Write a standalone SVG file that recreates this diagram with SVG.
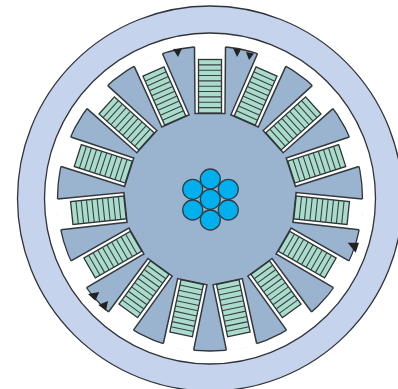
<svg xmlns="http://www.w3.org/2000/svg" width="398" height="389" viewBox="0 0 398 389">
<style>
.o{stroke:#2f3438;stroke-width:1.3}
.w{fill:#fff;stroke:none}
.e{fill:none;stroke:#33383c;stroke-width:1.5}
.g{fill:#a9dccb;stroke:#2f3438;stroke-width:1.3}
.b{stroke:#3a4044;stroke-width:1.1}
.c{fill:#00b0ee;stroke:#2f3e48;stroke-width:1.3}
.t{fill:#222}
</style>
<defs>
<g id="slot">
<rect class="w" x="-15.5" y="-153.6" width="31" height="68.6"/>
<path class="e" d="M-15.5,-151.5L-15,-85H15L15.5,-151.5"/>
<rect class="g" x="-11.5" y="-139" width="23" height="53.5"/>
<path class="b" d="M-11.5,-133.6H11.5M-11.5,-128.3H11.5M-11.5,-123H11.5M-11.5,-117.6H11.5M-11.5,-112.3H11.5M-11.5,-107H11.5M-11.5,-101.6H11.5M-11.5,-96.2H11.5M-11.5,-90.9H11.5"/>
</g>
</defs>
<circle class="o" cx="210" cy="198.5" r="192.5" fill="#c5d3ec"/>
<circle class="o" cx="210" cy="198.5" r="165.5" fill="#fff"/>
<circle class="o" cx="210" cy="198.5" r="152.5" fill="#9ab4cf"/>
<g id="slots" transform="translate(210 198.5)">
<use href="#slot"/>
<use href="#slot" transform="rotate(24)"/>
<use href="#slot" transform="rotate(48)"/>
<use href="#slot" transform="rotate(72)"/>
<use href="#slot" transform="rotate(96)"/>
<use href="#slot" transform="rotate(120)"/>
<use href="#slot" transform="rotate(144)"/>
<use href="#slot" transform="rotate(168)"/>
<use href="#slot" transform="rotate(192)"/>
<use href="#slot" transform="rotate(216)"/>
<use href="#slot" transform="rotate(240)"/>
<use href="#slot" transform="rotate(264)"/>
<use href="#slot" transform="rotate(288)"/>
<use href="#slot" transform="rotate(312)"/>
<use href="#slot" transform="rotate(336)"/>
</g>
<g id="markers">
<polygon class="t" points="173,49 182,48.5 178,57"/>
<polygon class="t" points="233,48 241,49.5 237,57"/>
<polygon class="t" points="246,52 254,53.5 249,60"/>
<polygon class="t" points="347.7,242.7 359,242.7 355.7,252.7"/>
<polygon class="t" points="88,294 99.3,292 95.3,300.7"/>
<polygon class="t" points="98.3,305 108,301 106,310.7"/>
</g>
<g id="conductor">
<circle class="c" cx="210.3" cy="179" r="10"/>
<circle class="c" cx="192.7" cy="189.3" r="10"/>
<circle class="c" cx="228.3" cy="189.3" r="10"/>
<circle class="c" cx="192.7" cy="210" r="10"/>
<circle class="c" cx="228.3" cy="210" r="10"/>
<circle class="c" cx="210.3" cy="220" r="10"/>
<circle class="c" cx="210.3" cy="199.3" r="10"/>
</g>
</svg>
